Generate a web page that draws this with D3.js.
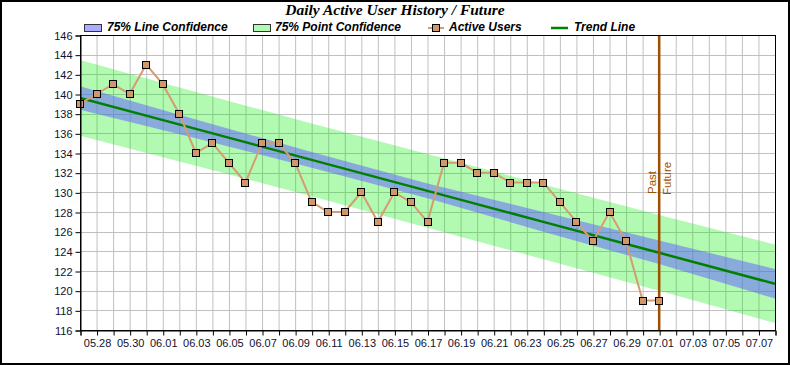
<!DOCTYPE html>
<html>
<head>
<meta charset="utf-8">
<script src="https://cdn.jsdelivr.net/npm/d3@7/dist/d3.min.js"></script>
<style>
html,body{margin:0;padding:0;background:#fff;}
svg{display:block;font-family:"Liberation Sans",Arial,sans-serif;}
</style>
</head>
<body>
<svg id="chart" width="790" height="365"></svg>
<script>
// ---- data ----
const title = "Daily Active User History / Future";
const legendLabels = ["75% Line Confidence", "75% Point Confidence", "Active Users", "Trend Line"];
const dayLabels = ["05.27","05.28","05.29","05.30","05.31","06.01","06.02","06.03","06.04","06.05","06.06","06.07","06.08","06.09","06.10","06.11","06.12","06.13","06.14","06.15","06.16","06.17","06.18","06.19","06.20","06.21","06.22","06.23","06.24","06.25","06.26","06.27","06.28","06.29","06.30","07.01","07.02","07.03","07.04","07.05","07.06","07.07","07.08"];
const activeDays = ["05.27","05.28","05.29","05.30","05.31","06.01","06.02","06.03","06.04","06.05","06.06","06.07","06.08","06.09","06.10","06.11","06.12","06.13","06.14","06.15","06.16","06.17","06.18","06.19","06.20","06.21","06.22","06.23","06.24","06.25","06.26","06.27","06.28","06.29","06.30","07.01"];
const activeUsers = [139,140,141,140,143,141,138,134,135,133,131,135,135,133,129,128,128,130,127,130,129,127,133,133,132,132,131,131,131,129,127,125,128,125,119,119];
const bandDays = ["05.27","06.03","06.10","06.17","06.24","07.01","07.08"];
const trendValues = [139.6,136.45,133.3,130.15,127.0,123.85,120.7];
const lineConfUpper = [140.8,137.4,134.1,130.9,128.0,125.1,122.2];
const lineConfLower = [138.4,135.5,132.5,129.4,126.0,122.7,119.2];
const pointConfUpper = [143.45,140.2,137.0,133.9,130.8,127.7,124.7];
const pointConfLower = [135.75,132.7,129.6,126.4,123.2,120.0,116.7];
const yTicks = [116,118,120,122,124,126,128,130,132,134,136,138,140,142,144,146];
const markerDay = "07.01";
const markerLabels = ["Past","Future"];

// ---- layout ----
const W = 790, H = 365;
const plot = {left: 80, right: 775, top: 35, bottom: 330};
const svg = d3.select("#chart");
const dayIndex = s => dayLabels.indexOf(s);

const x = d3.scaleLinear().domain([0, dayLabels.length - 1]).range([plot.left, plot.right]);
const y = d3.scaleLinear().domain([116, 146]).range([plot.bottom, plot.top]);

// outer border
svg.append("rect").attr("x",1).attr("y",1).attr("width",W-2).attr("height",H-2)
  .attr("fill","#fff").attr("stroke","#000").attr("stroke-width",2);

// clip
svg.append("defs").append("clipPath").attr("id","clip")
  .append("rect").attr("x",plot.left).attr("y",plot.top)
  .attr("width",plot.right-plot.left).attr("height",plot.bottom-plot.top);

// grid
const grid = svg.append("g");
grid.selectAll("line.v").data(dayLabels.map((d,i)=>i)).enter().append("line")
  .attr("x1",d=>x(d)+0.5).attr("x2",d=>x(d)+0.5)
  .attr("y1",plot.top).attr("y2",plot.bottom)
  .attr("stroke","#c0c0c0").attr("stroke-width",1);
grid.selectAll("line.h").data(yTicks).enter().append("line")
  .attr("y1",d=>Math.round(y(d))+0.5).attr("y2",d=>Math.round(y(d))+0.5)
  .attr("x1",plot.left).attr("x2",plot.right)
  .attr("stroke","#c0c0c0").attr("stroke-width",1);

const plotG = svg.append("g").attr("clip-path","url(#clip)");

const bandIdx = bandDays.map(dayIndex);
const pointArea = d3.area().x((d,i)=>x(bandIdx[i])).y0((d,i)=>y(pointConfLower[i])).y1((d,i)=>y(pointConfUpper[i]));
const lineArea = d3.area().x((d,i)=>x(bandIdx[i])).y0((d,i)=>y(lineConfLower[i])).y1((d,i)=>y(lineConfUpper[i]));
const greenFill = "rgba(0,240,0,0.3)";
const blueFill = "rgba(100,100,255,0.53)";
plotG.append("path").datum(bandDays).attr("d",pointArea).attr("fill",greenFill);
plotG.append("path").datum(bandDays).attr("d",lineArea).attr("fill",blueFill);

// trend line
plotG.append("path").datum(trendValues)
  .attr("d", d3.line().x((d,i)=>x(bandIdx[i])).y(d=>y(d)))
  .attr("fill","none").attr("stroke","#008000").attr("stroke-width",2.5);

// past/future marker
const mx = x(dayIndex(markerDay));
svg.append("line").attr("x1",mx).attr("x2",mx).attr("y1",plot.top).attr("y2",plot.bottom)
  .attr("stroke","#a05000").attr("stroke-width",2.5);
svg.append("text").attr("transform",`translate(${mx-3},194) rotate(-90)`)
  .attr("font-size",11.5).attr("fill","#a05000").text(markerLabels[0]);
svg.append("text").attr("transform",`translate(${mx+12},195) rotate(-90)`)
  .attr("font-size",11.5).attr("fill","#a05000").text(markerLabels[1]);

// active users line
const actIdx = activeDays.map(dayIndex);
svg.append("path").datum(activeUsers)
  .attr("d", d3.line().x((d,i)=>x(actIdx[i])).y(d=>y(d)))
  .attr("fill","none").attr("stroke","#d49c70").attr("stroke-width",2);
svg.selectAll("rect.pt").data(activeUsers).enter().append("rect")
  .attr("x",(d,i)=>Math.round(x(actIdx[i]))-3.5).attr("y",d=>Math.round(y(d))-3.5)
  .attr("width",7).attr("height",7)
  .attr("fill","#d09868").attr("stroke","#000").attr("stroke-width",1);

// frame
svg.append("rect").attr("x",plot.left+0.5).attr("y",plot.top+0.5)
  .attr("width",plot.right-plot.left).attr("height",plot.bottom-plot.top)
  .attr("fill","none").attr("stroke","#000").attr("stroke-width",1);

// axes
const yAxis = d3.axisLeft(y).tickValues(yTicks).tickSize(5).tickPadding(3).tickFormat(d3.format("d"));
const yg = svg.append("g").attr("transform",`translate(${plot.left+0.5},0.5)`).call(yAxis);
const xAxis = d3.axisBottom(x).tickValues(dayLabels.map((d,i)=>i)).tickSize(5).tickPadding(4)
  .tickFormat(i => (i % 2 === 1) ? dayLabels[i] : "");
const xg = svg.append("g").attr("transform",`translate(0.5,${plot.bottom+0.5})`).call(xAxis);
[yg, xg].forEach(g => {
  g.attr("font-family", null).attr("font-size", null);
  g.select(".domain").attr("stroke","#000");
  g.selectAll(".tick line").attr("stroke","#000");
  g.selectAll("text").style("font-family","'Liberation Sans',Arial,sans-serif")
    .style("font-size","11px").attr("fill","#101030");
});

// title
svg.append("text").attr("x",395).attr("y",15).attr("text-anchor","middle")
  .style("font-family","'Liberation Serif','Times New Roman',serif")
  .style("font-size","15.5px").style("font-weight","bold").style("font-style","italic")
  .attr("fill","#000").text(title);

// legend
const lg = svg.append("g").style("font-size","12px").style("font-weight","bold").style("font-style","italic");
function legText(xp, t){ lg.append("text").attr("x",xp).attr("y",31).attr("fill","#000").text(t); }
lg.append("rect").attr("x",84.5).attr("y",24.5).attr("width",17).attr("height",7)
  .attr("fill",blueFill).attr("stroke","#333");
legText(107, legendLabels[0]);
lg.append("rect").attr("x",253.5).attr("y",24.5).attr("width",17).attr("height",7)
  .attr("fill",greenFill).attr("stroke","#333");
legText(275, legendLabels[1]);
lg.append("line").attr("x1",428).attr("x2",444).attr("y1",28).attr("y2",28)
  .attr("stroke","#d49c70").attr("stroke-width",2);
lg.append("rect").attr("x",432.5).attr("y",24.5).attr("width",7).attr("height",7)
  .attr("fill","#d09868").attr("stroke","#000");
legText(449, legendLabels[2]);
lg.append("line").attr("x1",551).attr("x2",568).attr("y1",28).attr("y2",28)
  .attr("stroke","#008000").attr("stroke-width",2.5);
legText(574, legendLabels[3]);
</script>
</body>
</html>
